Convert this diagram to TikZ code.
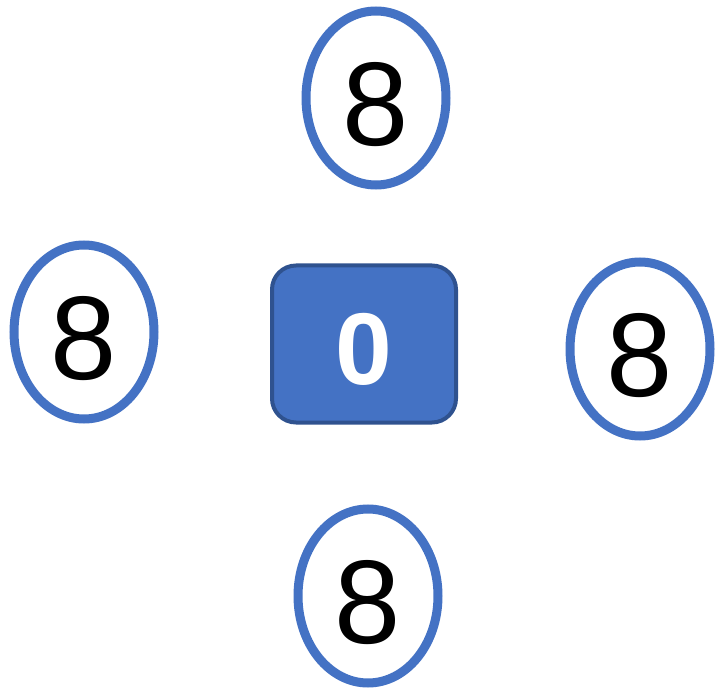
\documentclass[tikz,border=0pt]{standalone}
\usepackage{fontspec}
\setmainfont{Liberation Sans}
\usetikzlibrary{shapes.geometric}
\definecolor{cellblue}{HTML}{4472C4}
\definecolor{celledge}{HTML}{2F528F}
\tikzset{
  ringcell/.style={
    ellipse,
    draw=cellblue,
    line width=9pt,
    fill=white,
    inner sep=0pt,
    minimum width=140pt,
    minimum height=174pt,
    text height=95pt,
    text depth=0pt,
    font=\fontsize{119}{119}\selectfont,
    text=black
  },
  zerocell/.style={
    draw=celledge,
    line width=4pt,
    fill=cellblue,
    rounded corners=24pt,
    inner sep=0pt,
    minimum width=184pt,
    minimum height=157pt,
    text height=81pt,
    text depth=0pt,
    font=\fontsize{102}{102}\selectfont\bfseries,
    text=white
  }
}
\begin{document}
\begin{tikzpicture}[x=1pt,y=-1pt]
  \useasboundingbox (0,0) rectangle (716,690);
  \node[zerocell] (centre) at (364,344) {0};
  \node[ringcell] (top) at (376,98) {8};
  \node[ringcell] (left) at (84,332) {8};
  \node[ringcell] (right) at (640,349) {8};
  \node[ringcell] (bottom) at (368,596) {8};
\end{tikzpicture}
\end{document}
